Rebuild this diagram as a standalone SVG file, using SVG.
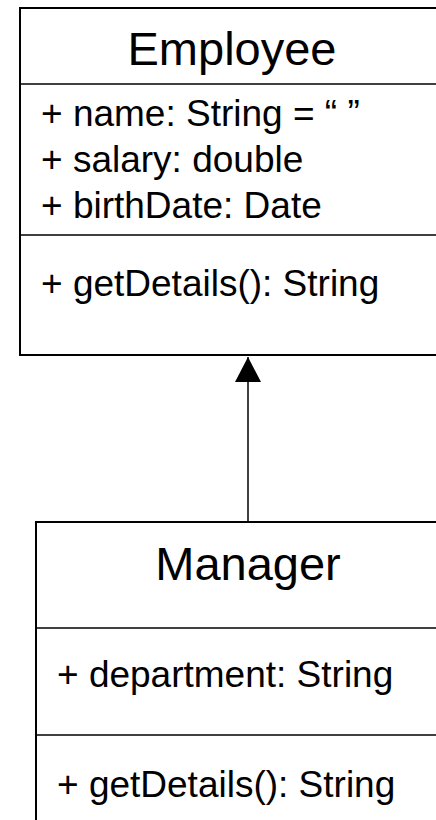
<svg xmlns="http://www.w3.org/2000/svg" width="436" height="820" viewBox="0 0 436 820">
  <style>
    .box { fill: #ffffff; stroke: #000000; stroke-width: 2; }
    .sep { stroke: #000000; stroke-width: 1.5; }
    .title { font-family: "Liberation Sans", Arial, sans-serif; font-size: 47px; fill: #000000; text-anchor: middle; }
    .member { font-family: "Liberation Sans", Arial, sans-serif; font-size: 37px; fill: #000000; }
    .edge { stroke: #000000; stroke-width: 1.5; fill: none; }
  </style>
  <defs>
    <marker id="arrowhead" markerWidth="26" markerHeight="26" refX="25" refY="13" orient="auto" markerUnits="userSpaceOnUse">
      <path d="M0,0 L25,13 L0,26 Z" fill="#000000"/>
    </marker>
  </defs>

  <g id="connectors">
    <line class="edge" x1="248" y1="522" x2="248" y2="357" marker-end="url(#arrowhead)"/>
  </g>

  <g id="employee">
    <rect class="box" x="20" y="8" width="424" height="347"/>
    <line class="sep" x1="20" y1="84" x2="444" y2="84"/>
    <line class="sep" x1="20" y1="235" x2="444" y2="235"/>
    <text class="title" x="232" y="65">Employee</text>
    <text class="member" x="41" y="126">+ name: String = “ ”</text>
    <text class="member" x="41" y="172">+ salary: double</text>
    <text class="member" x="41" y="218">+ birthDate: Date</text>
    <text class="member" x="41" y="296">+ getDetails(): String</text>
  </g>

  <g id="manager">
    <rect class="box" x="36" y="522" width="425" height="310"/>
    <line class="sep" x1="36" y1="628" x2="461" y2="628"/>
    <line class="sep" x1="36" y1="735" x2="461" y2="735"/>
    <text class="title" x="248" y="580">Manager</text>
    <text class="member" x="57" y="687">+ department: String</text>
    <text class="member" x="57" y="797">+ getDetails(): String</text>
  </g>
</svg>
